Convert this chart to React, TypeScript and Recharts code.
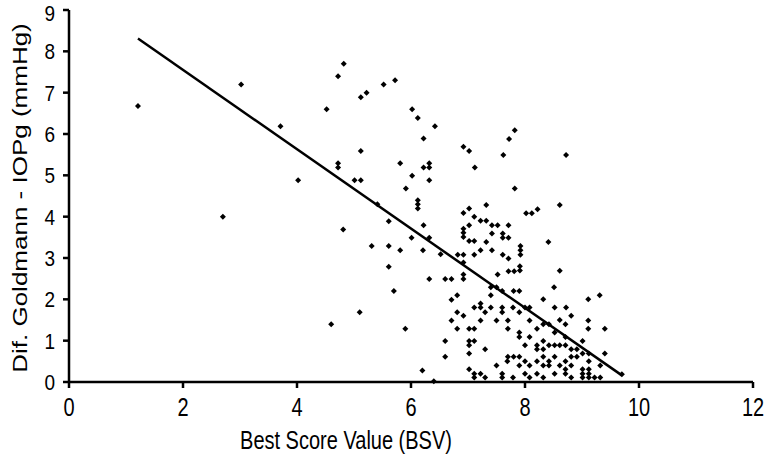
import React from 'react';
import { ScatterChart, Scatter, XAxis, YAxis, ReferenceLine, Label } from 'recharts';

// [BSV, Dif. Goldmann - IOPg] pairs
const leftObservations: [number, number][] = [
  [1.21, 6.68], [2.70, 4.00], [3.02, 7.20], [3.71, 6.19], [4.02, 4.88], [4.52, 6.60],
  [4.60, 1.40], [4.72, 7.40], [4.82, 7.70], [4.72, 5.29], [4.72, 5.19], [4.81, 3.69],
  [5.01, 4.88], [5.12, 4.88], [5.10, 1.69], [5.12, 6.89], [5.22, 7.00], [5.12, 5.59],
  [5.31, 3.29], [5.41, 4.30], [5.52, 7.20], [5.61, 3.89], [5.61, 3.29], [5.61, 2.79],
  [5.70, 2.20], [5.72, 7.30], [5.81, 5.29], [5.81, 3.19], [5.90, 1.29], [5.91, 4.68],
  [6.01, 3.49], [6.02, 6.60], [6.02, 4.99], [6.12, 6.39], [6.12, 4.40], [6.12, 4.30],
  [6.12, 4.20], [6.20, 0.28], [6.21, 3.19], [6.22, 5.89], [6.22, 5.19], [6.22, 3.79],
  [6.32, 5.29], [6.32, 5.19], [6.32, 4.88], [6.32, 3.49], [6.32, 2.49], [6.40, 0.02],
  [6.42, 6.19], [6.52, 3.09], [6.60, 2.49], [6.71, 2.49], [6.60, 0.99], [6.60, 0.61],
];

const upperObservations: [number, number][] = [
  [6.92, 5.69], [7.02, 5.59], [7.12, 5.19], [7.62, 5.49], [7.72, 5.88], [7.82, 6.09],
  [8.72, 5.49], [7.82, 4.68], [7.32, 4.28], [8.61, 4.28], [8.02, 4.08], [8.12, 4.08],
  [8.22, 4.18], [8.41, 3.39], [8.61, 2.69], [8.51, 2.29], [9.31, 2.10], [9.11, 2.00],
  [9.40, 1.29], [9.11, 1.49], [9.11, 1.29], [9.40, 0.69], [9.70, 0.19],
];

const clusterUpper: [number, number][] = [
  [6.92, 4.09], [7.02, 4.20], [7.11, 4.00], [7.22, 3.90], [7.32, 3.90], [7.42, 3.79],
  [7.52, 3.79], [7.71, 3.79], [7.02, 3.79], [6.92, 3.71], [6.92, 3.61], [6.92, 3.51],
  [7.02, 3.41], [7.11, 3.41], [7.42, 3.59], [7.61, 3.59], [7.61, 3.49], [7.71, 3.49],
  [7.32, 3.39], [7.22, 3.19], [7.42, 3.19], [7.92, 3.29], [7.92, 3.19], [7.92, 3.08],
  [6.82, 3.08], [6.92, 3.08], [7.11, 3.08], [7.61, 3.08], [7.71, 2.99], [6.92, 2.89],
  [7.91, 2.80], [7.91, 2.70], [7.71, 2.68], [7.81, 2.68], [7.52, 2.60], [6.92, 2.60],
];

const clusterLower: [number, number][] = [
  [6.92, 2.49], [7.40, 2.29], [7.50, 2.29], [7.60, 2.20], [7.80, 2.20], [7.90, 2.20],
  [7.40, 2.10], [6.81, 2.10], [6.71, 1.99], [7.22, 1.90], [7.11, 1.80], [7.22, 1.80],
  [7.40, 1.80], [7.60, 1.80], [7.60, 1.69], [7.79, 1.80], [8.00, 1.80], [8.08, 1.80],
  [6.81, 1.69], [7.30, 1.69], [7.90, 1.69], [6.92, 1.60], [6.71, 1.49], [7.22, 1.49],
  [7.50, 1.49], [7.70, 1.49], [8.08, 1.49], [6.81, 1.29], [7.02, 1.29], [7.11, 1.29],
  [7.70, 1.29], [7.90, 1.20], [7.90, 1.09], [8.08, 1.09], [7.02, 0.99], [7.11, 0.99],
  [7.02, 0.89], [7.30, 0.79], [8.00, 0.89], [7.02, 0.69], [7.70, 0.61], [7.80, 0.61],
  [7.90, 0.61], [7.69, 0.50], [8.00, 0.50], [7.50, 0.40], [7.90, 0.40], [8.08, 0.40],
  [7.02, 0.31], [7.11, 0.20], [7.22, 0.20], [7.11, 0.11], [7.30, 0.11], [7.60, 0.20],
  [7.60, 0.11], [7.79, 0.11], [8.00, 0.20], [8.08, 0.11],
];

const clusterRight: [number, number][] = [
  [8.32, 2.00], [8.52, 1.80], [8.72, 1.80], [8.81, 1.60], [8.61, 1.50], [8.71, 1.40],
  [8.42, 1.40], [8.32, 1.40], [8.21, 1.29], [8.52, 1.20], [8.71, 1.09], [9.01, 0.99],
  [8.32, 0.99], [8.21, 0.89], [8.42, 0.89], [8.52, 0.89], [8.61, 0.89], [8.71, 0.89],
  [8.81, 0.79], [8.91, 0.79], [8.21, 0.79], [8.32, 0.79], [9.01, 0.69], [9.12, 0.69],
  [8.32, 0.61], [8.52, 0.61], [8.81, 0.61], [8.91, 0.61], [8.21, 0.50], [8.42, 0.50],
  [8.71, 0.50], [9.12, 0.50], [8.32, 0.40], [8.42, 0.40], [8.61, 0.40], [8.81, 0.40],
  [9.32, 0.40], [9.01, 0.31], [9.12, 0.31], [8.21, 0.20], [8.52, 0.20], [8.71, 0.31],
  [8.71, 0.20], [9.01, 0.20], [9.12, 0.20], [8.32, 0.11], [8.81, 0.11], [9.22, 0.11],
  [9.32, 0.11], [9.01, 0.11], [9.12, 0.11],
];

// regression line end points [BSV, Dif]
const fitStart: [number, number] = [1.21, 8.31];
const fitEnd: [number, number] = [9.7, 0.16];

const xTicks = [0, 2, 4, 6, 8, 10, 12];
const yTicks = [0, 1, 2, 3, 4, 5, 6, 7, 8, 9];

const xTitle = 'Best Score Value (BSV)';
const yTitle = 'Dif. Goldmann - IOPg (mmHg)';

const points = [
  ...leftObservations,
  ...upperObservations,
  ...clusterUpper,
  ...clusterLower,
  ...clusterRight,
].map(([bsv, dif]) => ({ bsv, dif }));

const FONT = '"Liberation Sans", Arial, sans-serif';
const FS = 20;
const STRETCH = 1.3;
const Y_FS = 19;
const Y_STRETCH = 1.2;

const Diamond = (props: any) => {
  const { cx, cy } = props;
  if (cx == null || cy == null) return null;
  const r = 3;
  return (
    <polygon
      points={`${cx},${cy - r} ${cx + r},${cy} ${cx},${cy + r} ${cx - r},${cy}`}
      fill="#000"
    />
  );
};

const XTick = (props: any) => {
  const { x, y, payload } = props;
  return (
    <text
      transform={`translate(${x},${y + 28}) scale(1,${STRETCH})`}
      textAnchor="middle"
      fill="#000"
      fontSize={FS}
      fontFamily={FONT}
    >
      {payload.value}
    </text>
  );
};

const YTick = (props: any) => {
  const { x, y, payload } = props;
  const eff = Y_FS * Y_STRETCH;
  // keep the top label's box inside the picture
  const base = Math.max(y + eff * 0.358, eff * 0.92);
  return (
    <text
      transform={`translate(${x},${base}) scale(1,${Y_STRETCH})`}
      textAnchor="end"
      fill="#000"
      fontSize={Y_FS}
      fontFamily={FONT}
    >
      {payload.value}
    </text>
  );
};

const XTitle = (props: any) => {
  const vb = props.viewBox || { x: 0, y: 0, width: 0, height: 0 };
  const cx = vb.x + vb.width / 2 - 65;
  const baseY = vb.y + 67;
  return (
    <text
      transform={`translate(${cx},${baseY}) scale(1,${STRETCH})`}
      textAnchor="middle"
      fill="#000"
      fontSize={FS}
      fontFamily={FONT}
    >
      {xTitle}
    </text>
  );
};

const YTitle = (props: any) => {
  const vb = props.viewBox || { x: 0, y: 0, width: 0, height: 0 };
  const cy = vb.y + vb.height / 2 + 2;
  return (
    <text
      transform={`translate(20,${cy}) scale(1,${STRETCH}) rotate(-90)`}
      textAnchor="middle"
      dy="0.36em"
      fill="#000"
      fontSize={FS}
      fontFamily={FONT}
    >
      {yTitle}
    </text>
  );
};

export default function App() {
  return (
    <div style={{ position: 'absolute', left: 0, top: 0, background: '#fff' }}>
      <ScatterChart
        width={767}
        height={462}
        margin={{ top: 10, right: 14, bottom: 0, left: 0 }}
      >
        <XAxis
          type="number"
          dataKey="bsv"
          domain={[0, 12]}
          ticks={xTicks}
          interval={0}
          height={80}
          tickSize={6}
          tickMargin={0}
          stroke="#000"
          strokeWidth={2.5}
          tick={<XTick />}
        >
          <Label content={<XTitle />} />
        </XAxis>
        <YAxis
          type="number"
          dataKey="dif"
          domain={[0, 9]}
          ticks={yTicks}
          interval={0}
          width={69}
          tickSize={6}
          tickMargin={8}
          stroke="#000"
          strokeWidth={2.5}
          tick={<YTick />}
        >
          <Label content={<YTitle />} />
        </YAxis>
        <Scatter data={points} shape={<Diamond />} isAnimationActive={false} />
        <ReferenceLine
          segment={[
            { x: fitStart[0], y: fitStart[1] },
            { x: fitEnd[0], y: fitEnd[1] },
          ]}
          stroke="#000"
          strokeWidth={2.5}
        />
      </ScatterChart>
    </div>
  );
}
